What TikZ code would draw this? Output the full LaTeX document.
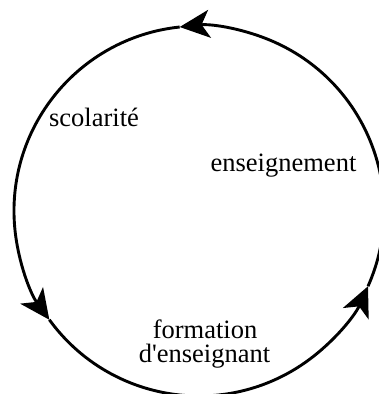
\documentclass[tikz,border=0pt]{standalone}
\usepackage{fontspec}
\setmainfont{Liberation Serif}
\usetikzlibrary{arrows.meta,calc}
\begin{document}
\begin{tikzpicture}[x=1pt,y=1pt,
  cycarc/.style={line width=2.9pt,-{Stealth[length=30pt,width=28pt,inset=8pt]}},
  lab/.style={font=\fontsize{26.5}{25}\selectfont,inner sep=0pt,anchor=base}]
\useasboundingbox (0,0) rectangle (379,394);
\clip (0,0) rectangle (379,394);
\coordinate (c) at (199,183);
\coordinate (pR) at ($(c)+(-24:185)$);
\coordinate (pT) at ($(c)+(96:185)$);
\coordinate (pL) at ($(c)+(216:185)$);
\draw[cycarc] (pR) arc[start angle=-24,end angle=96,radius=185];
\draw[cycarc] (pT) arc[start angle=96,end angle=216,radius=185];
\draw[cycarc] (pL) arc[start angle=216,end angle=336,radius=185];
\node[lab] (scol) at (94,267) {scolarité};
\node[lab] (ens) at (283.5,222) {enseignement};
\node[lab] (form1) at (205,56) {formation};
\node[lab] (form2) at (204.5,31) {d\textquotesingle enseignant};
\end{tikzpicture}
\end{document}
